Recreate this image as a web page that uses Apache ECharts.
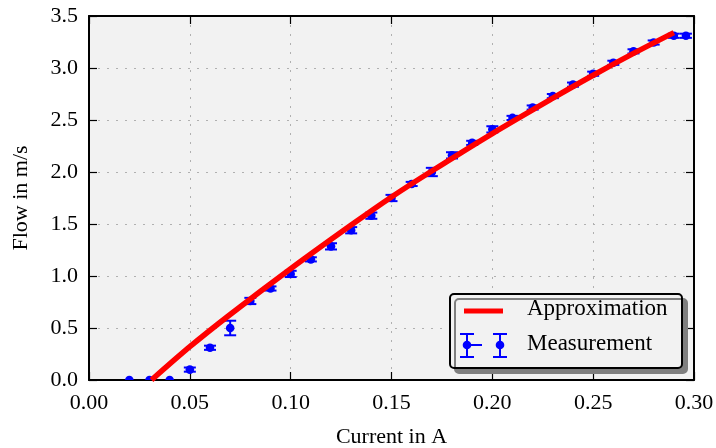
<!DOCTYPE html>
<html><head><meta charset="utf-8">
<script src="https://cdn.jsdelivr.net/npm/echarts@6/dist/echarts.min.js"></script>
<style>html,body{margin:0;padding:0;background:#fff}#c{width:716px;height:448px}</style>
</head><body><div id="c"></div>
<script>
// Measurement data
var currentA = [0.02,0.03,0.04,0.05,0.06,0.07,0.08,0.09,0.10,0.11,0.12,0.13,0.14,0.15,0.16,0.17,0.18,0.19,0.20,0.21,0.22,0.23,0.24,0.25,0.26,0.27,0.28,0.29,0.296];
var flow = [0,0,0,0.10,0.31,0.50,0.76,0.88,1.02,1.16,1.285,1.44,1.58,1.75,1.885,2.0,2.16,2.28,2.41,2.52,2.62,2.73,2.84,2.945,3.05,3.16,3.245,3.31,3.31];
var flowErr = [0,0,0,0.02,0.02,0.07,0.03,0.02,0.03,0.02,0.03,0.03,0.03,0.03,0.02,0.04,0.03,0.02,0.03,0.02,0.02,0.02,0.02,0.02,0.02,0.02,0.02,0.02,0.02];
// Approximation curve
var approxX = [0.031,0.05,0.07,0.10,0.13,0.15,0.17,0.20,0.23,0.25,0.27,0.29];
var approxY = [0,0.32,0.63,1.07,1.49,1.76,2.01,2.37,2.71,2.93,3.14,3.34];
// Axis ticks
var xTicks = [0,0.05,0.10,0.15,0.20,0.25,0.30];
var yTicks = [0,0.5,1.0,1.5,2.0,2.5,3.0,3.5];

var FONT = 'Liberation Serif';
var measData = currentA.map(function(x,i){return [x, flow[i], flowErr[i]];});
var approxData = approxX.map(function(x,i){return [x, approxY[i]];});

var chart = echarts.init(document.getElementById('c'), null, {renderer:'canvas'});
var gridL=89, gridT=16, gridR=22, gridB=68;
function splitStyle(){ return {show:true, lineStyle:{color:'#b0b0b0', width:1, type:[2,7]}}; }
function tickStyle(){ return {show:true, inside:true, length:8, lineStyle:{color:'#000', width:1.2}}; }
function xAx(pos, labels){
  return {type:'value', position:pos, min:xTicks[0], max:xTicks[xTicks.length-1], interval:0.05,
    axisLine:{show:true, onZero:false, lineStyle:{color:'#000', width:2}}, axisTick:tickStyle(),
    splitLine: pos==='bottom'?splitStyle():{show:false},
    axisLabel:{show:labels, color:'#000', fontFamily:FONT, fontSize:22, margin:12, formatter:function(v){return v.toFixed(2);}},
    name: labels?'Current in A':'', nameLocation:'middle', nameGap:46,
    nameTextStyle:{color:'#000', fontFamily:FONT, fontSize:22}};
}
function yAx(pos, labels){
  return {type:'value', position:pos, min:yTicks[0], max:yTicks[yTicks.length-1], interval:0.5,
    axisLine:{show:true, onZero:false, lineStyle:{color:'#000', width:2}}, axisTick:tickStyle(),
    splitLine: pos==='left'?splitStyle():{show:false},
    axisLabel:{show:labels, color:'#000', fontFamily:FONT, fontSize:22, margin:11, formatter:function(v){return v.toFixed(1);}},
    name: labels?'Flow in m/s':'', nameLocation:'middle', nameGap:57,
    nameTextStyle:{color:'#000', fontFamily:FONT, fontSize:22}};
}
var BLUE = '#0000ff';
function ln(x1,y1,x2,y2){ return {type:'line', z:101, shape:{x1:x1,y1:y1,x2:x2,y2:y2}, style:{stroke:BLUE, lineWidth:2}}; }
var option = {
  animation:false,
  backgroundColor:'#fff',
  grid:{left:gridL, top:gridT, right:gridR, bottom:gridB, show:true, backgroundColor:'#f2f2f2', borderWidth:0, containLabel:false, outerBoundsMode:'none'},
  xAxis:[xAx('bottom',true), xAx('top',false)],
  yAxis:[yAx('left',true), yAx('right',false)],
  series:[
    {type:'custom', name:'Measurement', xAxisIndex:0, yAxisIndex:0, data:measData, z:3,
      renderItem:function(params, api){
        var x=api.value(0), y=api.value(1), e=api.value(2);
        var c=api.coord([x,y]);
        var pt=api.coord([x,y+e]), pb=api.coord([x,y-e]);
        var cw=6, r=4.3;
        var st={stroke:BLUE, lineWidth:2};
        var cs=params.coordSys;
        var children=[];
        if(e>0){
          children.push({type:'line', shape:{x1:pt[0],y1:pt[1],x2:pb[0],y2:pb[1]}, style:st});
          children.push({type:'line', shape:{x1:pt[0]-cw,y1:pt[1],x2:pt[0]+cw,y2:pt[1]}, style:st});
          children.push({type:'line', shape:{x1:pb[0]-cw,y1:pb[1],x2:pb[0]+cw,y2:pb[1]}, style:st});
        }
        if(c[1]+r > cs.y+cs.height){
          children.push({type:'sector', shape:{cx:c[0], cy:c[1], r0:0, r:r, startAngle:Math.PI, endAngle:Math.PI*2, clockwise:true}, style:{fill:BLUE}});
        } else {
          children.push({type:'circle', shape:{cx:c[0], cy:c[1], r:r}, style:{fill:BLUE}});
        }
        return {type:'group', children:children};
      }
    },
    {type:'line', name:'Approximation', data:approxData, showSymbol:false, smooth:0.3, z:4,
      lineStyle:{color:'#ff0000', width:5.5}}
  ],
  graphic:[
    {type:'rect', left:449, top:293, shape:{width:232, height:74, r:4}, z:100,
      style:{fill:'#f2f2f2', stroke:'#000', lineWidth:2, shadowColor:'#7f7f7f', shadowBlur:0, shadowOffsetX:5, shadowOffsetY:5}},
    {type:'line', z:101, shape:{x1:464, y1:311, x2:503, y2:311}, style:{stroke:'#ff0000', lineWidth:5}},
    {type:'text', z:101, left:527, top:297, style:{text:'Approximation', font:'23px "Liberation Serif"', fill:'#000'}},
    ln(467,334,467,357), ln(460,334,474,334), ln(460,357,474,357), ln(467,345,482,345),
    {type:'circle', z:101, shape:{cx:467, cy:345, r:4.3}, style:{fill:BLUE}},
    ln(500,334,500,357), ln(493,334,507,334), ln(493,357,507,357),
    {type:'circle', z:101, shape:{cx:500, cy:345, r:4.3}, style:{fill:BLUE}},
    {type:'text', z:101, left:527, top:332, style:{text:'Measurement', font:'23px "Liberation Serif"', fill:'#000'}}
  ]
};
chart.setOption(option);
</script>
</body></html>
